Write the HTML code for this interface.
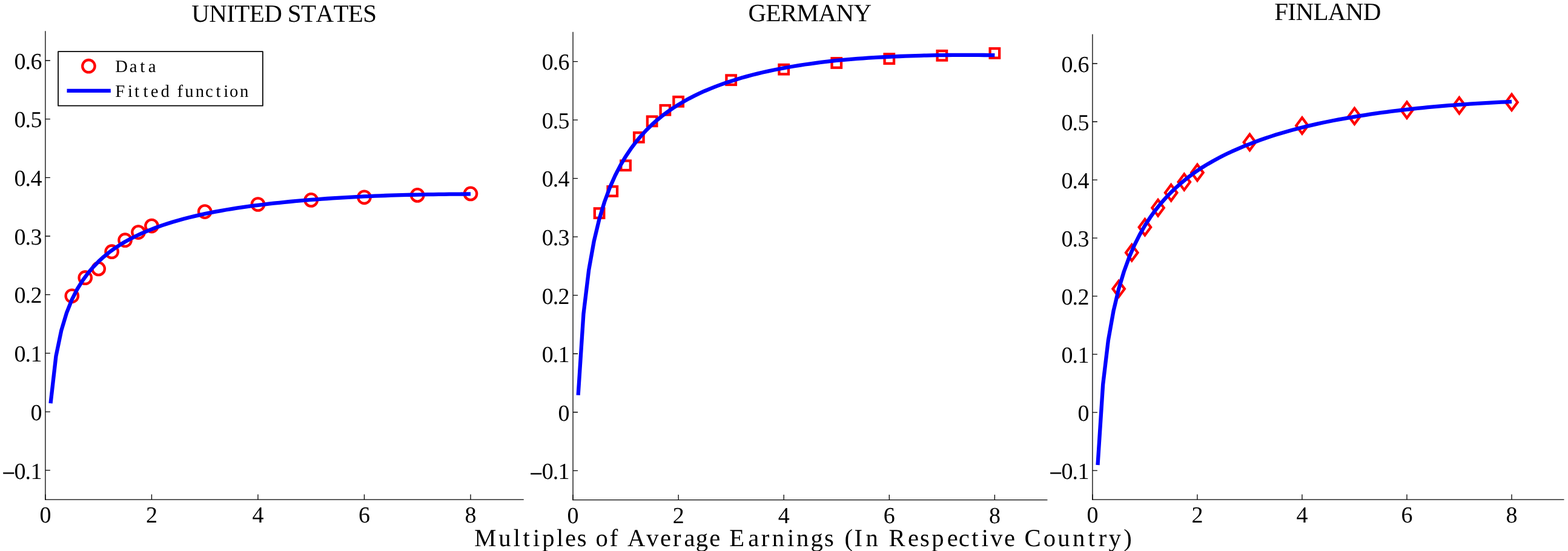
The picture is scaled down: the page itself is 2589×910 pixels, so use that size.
<!DOCTYPE html>
<html lang="en">
<head>
<meta charset="utf-8">
<title>Average tax rates: data and fitted function</title>
<style>
html,body{margin:0;padding:0;background:#fff;}
body{width:2589px;height:910px;overflow:hidden;}
svg{display:block;}
text{font-family:"Liberation Serif", "DejaVu Serif", serif;fill:#000;font-kerning:none;text-rendering:geometricPrecision;}
.tick{font-size:38.0px;}
.title{font-size:41.0px;letter-spacing:-0.62px;}
.ax{stroke:#000;stroke-width:1.3;fill:none;stroke-linecap:butt;}
.curve{stroke:#0000ff;stroke-width:6.3;fill:none;stroke-linejoin:round;stroke-linecap:butt;}
.mk{stroke:#ff0000;stroke-width:4.3;fill:none;stroke-linejoin:miter;}
.leg{font-size:28.7px;}
.xl{font-size:40.7px;}
.neg{stroke:#000;stroke-width:0.5px;}
</style>
</head>
<body>
<svg width="2589" height="910" viewBox="0 0 2589 910">
<rect x="0" y="0" width="2589" height="910" fill="#ffffff"/>

<g id="panel1">
<path class="ax" d="M74.90 51.16V825.69"/>
<path class="ax" d="M74.25 825.04H864.76"/>
<path class="ax" d="M74.90 825.04V816.39M250.43 825.04V816.39M425.95 825.04V816.39M601.48 825.04V816.39M777.00 825.04V816.39M74.90 776.70H82.90M74.90 680.03H82.90M74.90 583.36H82.90M74.90 486.69H82.90M74.90 390.01H82.90M74.90 293.34H82.90M74.90 196.67H82.90M74.90 100.00H82.90"/>
<text class="tick" x="74.90" y="863.14" text-anchor="middle">0</text>
<text class="tick" x="250.43" y="863.14" text-anchor="middle">2</text>
<text class="tick" x="425.95" y="863.14" text-anchor="middle">4</text>
<text class="tick" x="601.48" y="863.14" text-anchor="middle">6</text>
<text class="tick" x="777.00" y="863.14" text-anchor="middle">8</text>
<text class="tick" y="790.50"><tspan class="neg" x="3.40" dy="3.5">−</tspan><tspan x="23.50 41.60 50.40" dy="-3.5">0.1</tspan></text>
<text class="tick" x="50.40" y="693.83">0</text>
<text class="tick" x="23.50 41.60 50.40" y="597.16">0.1</text>
<text class="tick" x="23.50 41.60 50.40" y="500.49">0.2</text>
<text class="tick" x="23.50 41.60 50.40" y="403.81">0.3</text>
<text class="tick" x="23.50 41.60 50.40" y="307.14">0.4</text>
<text class="tick" x="23.50 41.60 50.40" y="210.47">0.5</text>
<text class="tick" x="23.50 41.60 50.40" y="113.80">0.6</text>
<text class="title" x="468.90" y="36.00" text-anchor="middle">UNITED STATES</text>
<g class="mk">
<circle cx="118.78" cy="488.80" r="10.2"/>
<circle cx="140.72" cy="458.70" r="10.2"/>
<circle cx="162.66" cy="443.90" r="10.2"/>
<circle cx="184.60" cy="415.70" r="10.2"/>
<circle cx="206.54" cy="396.70" r="10.2"/>
<circle cx="228.48" cy="383.60" r="10.2"/>
<circle cx="250.43" cy="373.10" r="10.2"/>
<circle cx="338.19" cy="349.60" r="10.2"/>
<circle cx="425.95" cy="337.50" r="10.2"/>
<circle cx="513.71" cy="330.40" r="10.2"/>
<circle cx="601.48" cy="325.80" r="10.2"/>
<circle cx="689.24" cy="322.40" r="10.2"/>
<circle cx="777.00" cy="319.90" r="10.2"/>
</g>
<polyline class="curve" points="83.53,666.22 92.45,588.19 101.23,545.82 110.01,516.66 118.78,494.69 127.56,477.49 136.33,463.32 145.11,451.33 153.89,441.00 162.66,431.95 171.44,423.94 180.22,416.78 188.99,410.36 197.77,404.57 206.54,399.30 215.32,394.47 224.10,390.02 232.87,385.92 241.65,382.11 250.43,378.58 259.20,375.25 267.98,372.14 276.75,369.22 285.53,366.49 294.31,363.92 303.08,361.51 311.86,359.23 320.63,357.09 329.41,355.06 338.19,353.15 346.96,351.35 355.74,349.64 364.52,348.03 373.29,346.50 382.07,345.05 390.85,343.68 399.62,342.38 408.40,341.14 417.17,339.97 425.95,338.86 434.73,337.76 443.50,336.71 452.28,335.71 461.06,334.76 469.83,333.86 478.61,333.00 487.38,332.18 496.16,331.41 504.94,330.67 513.71,329.97 522.49,329.28 531.26,328.62 540.04,327.99 548.82,327.40 557.59,326.83 566.37,326.30 575.15,325.79 583.92,325.31 592.70,324.86 601.48,324.43 610.25,324.05 619.03,323.68 627.80,323.34 636.58,323.02 645.36,322.72 654.13,322.44 662.91,322.19 671.68,321.95 680.46,321.73 689.24,321.53 698.01,321.35 706.79,321.19 715.57,321.04 724.34,320.91 733.12,320.80 741.89,320.70 750.67,320.62 759.45,320.55 768.22,320.50 777.00,320.46"/>
</g>
<g id="panel2">
<path class="ax" d="M946.05 52.84V826.21"/>
<path class="ax" d="M945.40 825.56H1729.44"/>
<path class="ax" d="M946.05 825.56V816.91M1120.14 825.56V816.91M1294.22 825.56V816.91M1468.31 825.56V816.91M1642.40 825.56V816.91M946.05 777.30H954.05M946.05 680.77H954.05M946.05 584.24H954.05M946.05 487.71H954.05M946.05 391.19H954.05M946.05 294.66H954.05M946.05 198.13H954.05M946.05 101.60H954.05"/>
<text class="tick" x="946.05" y="863.66" text-anchor="middle">0</text>
<text class="tick" x="1120.14" y="863.66" text-anchor="middle">2</text>
<text class="tick" x="1294.22" y="863.66" text-anchor="middle">4</text>
<text class="tick" x="1468.31" y="863.66" text-anchor="middle">6</text>
<text class="tick" x="1642.40" y="863.66" text-anchor="middle">8</text>
<text class="tick" y="791.10"><tspan class="neg" x="874.55" dy="3.5">−</tspan><tspan x="894.65 912.75 921.55" dy="-3.5">0.1</tspan></text>
<text class="tick" x="921.55" y="694.57">0</text>
<text class="tick" x="894.65 912.75 921.55" y="598.04">0.1</text>
<text class="tick" x="894.65 912.75 921.55" y="501.51">0.2</text>
<text class="tick" x="894.65 912.75 921.55" y="404.99">0.3</text>
<text class="tick" x="894.65 912.75 921.55" y="308.46">0.4</text>
<text class="tick" x="894.65 912.75 921.55" y="211.93">0.5</text>
<text class="tick" x="894.65 912.75 921.55" y="115.40">0.6</text>
<text class="title" x="1336.90" y="35.05" text-anchor="middle">GERMANY</text>
<g class="mk">
<rect x="981.82" y="344.35" width="15.50" height="15.50"/>
<rect x="1003.58" y="308.15" width="15.50" height="15.50"/>
<rect x="1025.34" y="265.55" width="15.50" height="15.50"/>
<rect x="1047.10" y="219.15" width="15.50" height="15.50"/>
<rect x="1068.87" y="192.55" width="15.50" height="15.50"/>
<rect x="1090.63" y="174.05" width="15.50" height="15.50"/>
<rect x="1112.39" y="160.05" width="15.50" height="15.50"/>
<rect x="1199.43" y="124.45" width="15.50" height="15.50"/>
<rect x="1286.47" y="106.95" width="15.50" height="15.50"/>
<rect x="1373.52" y="96.25" width="15.50" height="15.50"/>
<rect x="1460.56" y="89.35" width="15.50" height="15.50"/>
<rect x="1547.61" y="84.05" width="15.50" height="15.50"/>
<rect x="1634.65" y="80.15" width="15.50" height="15.50"/>
</g>
<polyline class="curve" points="954.66,652.59 963.46,518.38 972.16,446.28 980.87,397.68 989.57,361.50 998.28,332.98 1006.98,309.61 1015.68,289.96 1024.39,273.10 1033.09,258.40 1041.80,245.44 1050.50,233.90 1059.21,223.53 1067.91,214.16 1076.62,205.64 1085.32,197.95 1094.02,190.89 1102.73,184.40 1111.43,178.41 1120.14,172.86 1128.84,167.68 1137.55,162.86 1146.25,158.36 1154.95,154.16 1163.66,150.24 1172.36,146.56 1181.07,143.10 1189.77,139.86 1198.48,136.82 1207.18,133.95 1215.89,131.19 1224.59,128.58 1233.29,126.12 1242.00,123.79 1250.70,121.60 1259.41,119.53 1268.11,117.57 1276.82,115.72 1285.52,113.97 1294.22,112.32 1302.93,110.74 1311.63,109.25 1320.34,107.84 1329.04,106.51 1337.75,105.26 1346.45,104.07 1355.16,102.96 1363.86,101.91 1372.56,100.92 1381.27,99.99 1389.97,99.15 1398.68,98.37 1407.38,97.63 1416.09,96.95 1424.79,96.32 1433.49,95.73 1442.20,95.19 1450.90,94.69 1459.61,94.23 1468.31,93.82 1477.02,93.39 1485.72,93.00 1494.43,92.64 1503.13,92.32 1511.83,92.04 1520.54,91.79 1529.24,91.57 1537.95,91.38 1546.65,91.22 1555.36,91.09 1564.06,90.98 1572.77,90.91 1581.47,90.86 1590.17,90.84 1598.88,90.84 1607.58,90.86 1616.29,90.91 1624.99,90.99 1633.70,91.08 1642.40,91.20"/>
</g>
<g id="panel3">
<path class="ax" d="M1803.90 56.49V825.76"/>
<path class="ax" d="M1803.25 825.11H2582.51"/>
<path class="ax" d="M1803.90 825.11V816.46M1976.93 825.11V816.46M2149.95 825.11V816.46M2322.97 825.11V816.46M2496.00 825.11V816.46M1803.90 777.10H1811.90M1803.90 681.09H1811.90M1803.90 585.07H1811.90M1803.90 489.06H1811.90M1803.90 393.04H1811.90M1803.90 297.03H1811.90M1803.90 201.01H1811.90M1803.90 105.00H1811.90"/>
<text class="tick" x="1803.90" y="863.21" text-anchor="middle">0</text>
<text class="tick" x="1976.93" y="863.21" text-anchor="middle">2</text>
<text class="tick" x="2149.95" y="863.21" text-anchor="middle">4</text>
<text class="tick" x="2322.97" y="863.21" text-anchor="middle">6</text>
<text class="tick" x="2496.00" y="863.21" text-anchor="middle">8</text>
<text class="tick" y="790.90"><tspan class="neg" x="1732.40" dy="3.5">−</tspan><tspan x="1752.50 1770.60 1779.40" dy="-3.5">0.1</tspan></text>
<text class="tick" x="1779.40" y="694.89">0</text>
<text class="tick" x="1752.50 1770.60 1779.40" y="598.87">0.1</text>
<text class="tick" x="1752.50 1770.60 1779.40" y="502.86">0.2</text>
<text class="tick" x="1752.50 1770.60 1779.40" y="406.84">0.3</text>
<text class="tick" x="1752.50 1770.60 1779.40" y="310.83">0.4</text>
<text class="tick" x="1752.50 1770.60 1779.40" y="214.81">0.5</text>
<text class="tick" x="1752.50 1770.60 1779.40" y="118.80">0.6</text>
<text class="title" x="2192.00" y="32.90" text-anchor="middle">FINLAND</text>
<g class="mk">
<path d="M1847.16 464.00L1856.86 477.10L1847.16 490.20L1837.46 477.10Z"/>
<path d="M1868.78 404.20L1878.48 417.30L1868.78 430.40L1859.08 417.30Z"/>
<path d="M1890.41 362.10L1900.11 375.20L1890.41 388.30L1880.71 375.20Z"/>
<path d="M1912.04 330.10L1921.74 343.20L1912.04 356.30L1902.34 343.20Z"/>
<path d="M1933.67 305.20L1943.37 318.30L1933.67 331.40L1923.97 318.30Z"/>
<path d="M1955.30 287.50L1965.00 300.60L1955.30 313.70L1945.60 300.60Z"/>
<path d="M1976.93 271.90L1986.63 285.00L1976.93 298.10L1967.23 285.00Z"/>
<path d="M2063.44 221.90L2073.14 235.00L2063.44 248.10L2053.74 235.00Z"/>
<path d="M2149.95 194.40L2159.65 207.50L2149.95 220.60L2140.25 207.50Z"/>
<path d="M2236.46 178.80L2246.16 191.90L2236.46 205.00L2226.76 191.90Z"/>
<path d="M2322.97 168.60L2332.67 181.70L2322.97 194.80L2313.28 181.70Z"/>
<path d="M2409.49 161.20L2419.19 174.30L2409.49 187.40L2399.79 174.30Z"/>
<path d="M2496.00 155.80L2505.70 168.90L2496.00 182.00L2486.30 168.90Z"/>
</g>
<polyline class="curve" points="1812.49,768.04 1821.20,634.54 1829.85,562.25 1838.51,513.59 1847.16,477.24 1855.81,448.47 1864.46,424.82 1873.11,404.83 1881.76,387.61 1890.41,372.53 1899.06,359.17 1907.72,347.20 1916.37,336.40 1925.02,326.58 1933.67,317.60 1942.32,309.34 1950.97,301.71 1959.62,294.63 1968.27,288.05 1976.93,281.91 1985.58,276.23 1994.23,270.90 2002.88,265.90 2011.53,261.18 2020.18,256.74 2028.83,252.53 2037.48,248.56 2046.13,244.79 2054.79,241.21 2063.44,237.82 2072.09,234.48 2080.74,231.31 2089.39,228.28 2098.04,225.38 2106.69,222.61 2115.35,219.96 2124.00,217.43 2132.65,215.00 2141.30,212.67 2149.95,210.44 2158.60,208.34 2167.25,206.32 2175.90,204.39 2184.56,202.53 2193.21,200.75 2201.86,199.03 2210.51,197.39 2219.16,195.80 2227.81,194.28 2236.46,192.82 2245.11,191.40 2253.76,190.02 2262.42,188.70 2271.07,187.43 2279.72,186.21 2288.37,185.04 2297.02,183.90 2305.67,182.81 2314.32,181.77 2322.97,180.76 2331.63,179.82 2340.28,178.91 2348.93,178.05 2357.58,177.21 2366.23,176.41 2374.88,175.65 2383.53,174.91 2392.18,174.20 2400.84,173.53 2409.49,172.88 2418.14,172.27 2426.79,171.68 2435.44,171.13 2444.09,170.59 2452.74,170.08 2461.39,169.60 2470.05,169.14 2478.70,168.70 2487.35,168.28 2496.00,167.89"/>
</g>
<g id="legend">
<rect x="96.05" y="85.0" width="337.8" height="89.7" fill="#ffffff" stroke="#000000" stroke-width="1.75" stroke-linejoin="round"/>
<circle class="mk" cx="146.4" cy="109.2" r="10.2"/>
<line class="curve" x1="110.5" y1="149.9" x2="182.8" y2="149.9"/>
<text class="leg" x="190.37 213.72 231.26 244.65" y="119">Data</text>
<text class="leg" x="190.37 211.04 222.06 236.41 248.82 265.50 279.85 292.52 305.23 322.71 338.93 356.51 369.19 378.88 396.08" y="160">Fitted function</text>
</g>

<text class="xl" x="783.13 823.20 847.85 863.42 879.91 895.34 918.95 932.88 952.63 968.47 983.45 1006.65 1020.20 1035.90 1067.27 1089.93 1110.94 1129.38 1148.69 1171.25 1189.31 1204.13 1235.18 1256.79 1274.87 1299.96 1314.97 1338.59 1361.03 1376.87 1394.51 1410.40 1429.57 1449.92 1467.43 1499.08 1518.88 1538.24 1563.78 1582.77 1604.27 1620.81 1635.23 1658.05 1676.11 1691.53 1722.77 1746.15 1770.92 1796.47 1813.64 1830.41 1855.34" y="902.3">Multiples of Average Earnings (In Respective Country)</text>
</svg>
</body>
</html>
